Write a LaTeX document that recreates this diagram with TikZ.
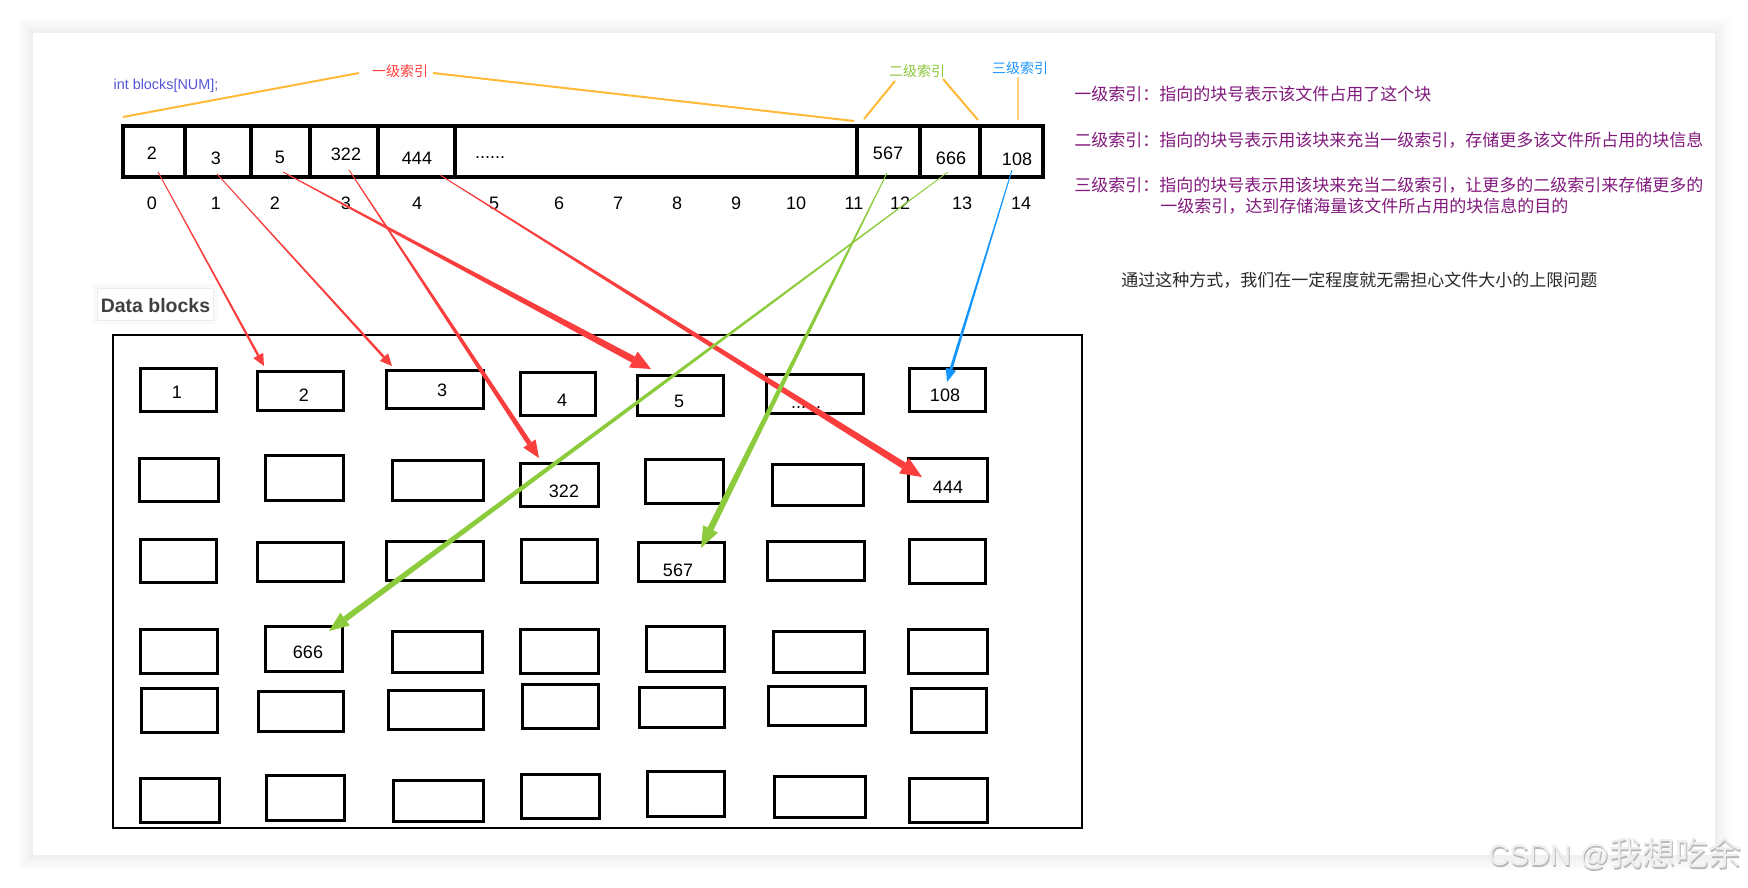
\documentclass[tikz,border=0pt]{standalone}
\usepackage{fontspec}
\setmainfont{Liberation Sans}
\newfontfamily\cjk{Noto Sans CJK SC}
\usetikzlibrary{calc}
\definecolor{redA}{RGB}{250,62,62}
\definecolor{greenA}{RGB}{140,204,60}
\definecolor{blueA}{RGB}{20,150,255}
\definecolor{orangeL}{RGB}{255,185,55}
\definecolor{orangeP}{RGB}{255,210,130}
\definecolor{purpleT}{RGB}{130,25,125}
\definecolor{intblue}{RGB}{85,85,215}
\definecolor{lblred}{RGB}{255,60,60}
\definecolor{lblgreen}{RGB}{140,200,60}
\definecolor{lblblue}{RGB}{30,150,255}
\definecolor{darkT}{RGB}{40,40,40}
\definecolor{dbgray}{RGB}{64,64,64}
\tikzset{
  num/.style={inner sep=0pt, font=\fontsize{13.5pt}{16pt}\selectfont},
  lbl/.style={inner sep=0pt, font=\cjk\fontsize{10.5pt}{12pt}\selectfont},
  desc/.style={inner sep=0pt, anchor=west, text=purpleT, font=\cjk\fontsize{12.75pt}{15pt}\selectfont},
  dbox/.style={draw, line width=2.5pt, inner sep=0pt, outer sep=0pt},
  oline/.style={draw=orangeL, line width=1.5pt},
}
% data box: name, x1, y1, x2, y2 (outer pixel edges)
\newcommand\dbx[5]{\node[dbox, minimum width={(#4-#2-3.3)*0.75pt}, minimum height={(#5-#3-3.3)*0.75pt}] (#1) at ({(#2+#4)/2},{(#3+#5)/2}) {};}
% tapered arrow: start, end, half width start, half width end, head length, head half width, colour
\newcommand\taper[7]{%
  \coordinate (#1#2h) at ($(#2)!#5!(#1)$);
  \fill[#7] ($(#1)!#3!90:(#2)$) -- ($(#1#2h)!#4!-90:(#1)$) -- ($(#1#2h)!#4!90:(#1)$) -- ($(#1)!#3!-90:(#2)$) -- cycle;
  \fill[#7] ($(#1#2h)!#6!-90:(#1)$) -- (#2) -- ($(#1#2h)!#6!90:(#1)$) -- cycle;
}
\begin{document}
\begin{tikzpicture}[x=0.75pt,y=-0.75pt]
\useasboundingbox (0,0) rectangle (1748,888);
\fill[white] (0,0) rectangle (1748,888);
% card shadow and card
\foreach \i in {1,...,16}{
  \fill[black,opacity=0.0045] ({33-\i},{33-\i}) rectangle ({1715+\i},{855+\i});
}
\fill[white] (33,33) rectangle (1715,855);

% ---------- index array ----------
\draw[line width=3.4pt] (123,126) rectangle (1043,177);
\foreach \x in {185,251,310,378,455,857,920,980}{
  \draw[line width=3.2pt] (\x,126) -- (\x,177);
}
\node[num] (t0) at (152,153) {2};
\node[num] (t1) at (216,158) {3};
\node[num] (t2) at (280,157) {5};
\node[num] (t3) at (346,154) {322};
\node[num] (t4) at (417,158) {444};
\node[num, anchor=base] (tdots) at (490,159) {......};
\node[num] (t12) at (888,153) {567};
\node[num] (t13) at (951,158) {666};
\node[num] (t14) at (1017,159) {108};

\foreach \n/\x in {0/152,1/216,2/275,3/346,4/417,5/494,6/559,7/618,8/677,9/736,10/796,11/854,12/900,13/962,14/1021}{
  \node[num] (i\n) at (\x,203) {\n};
}

% ---------- labels ----------
\node[inner sep=0pt, text=intblue, font=\fontsize{10.8pt}{13pt}\selectfont] (intlbl) at (166,86) {int blocks[NUM];};
\node[lbl, text=lblred] (lbl1) at (400,71) {一级索引};
\node[lbl, text=lblgreen] (lbl2) at (917,71) {二级索引};
\node[lbl, text=lblblue] (lbl3) at (1020,68) {三级索引};

\coordinate (o1a) at (123,117);
\coordinate (o1b) at (359,73);
\coordinate (o2a) at (433,73);
\coordinate (o2b) at (854,121);
\coordinate (o3a) at (895,81);
\coordinate (o3b) at (864,119);
\coordinate (o4a) at (943,79);
\coordinate (o4b) at (978,120);
\coordinate (o5a) at (1018,77);
\coordinate (o5b) at (1018,120);
\draw[oline] (o1a) -- (o1b);
\draw[oline] (o2a) -- (o2b);
\draw[oline] (o3a) -- (o3b);
\draw[oline] (o4a) -- (o4b);
\draw[draw=orangeP, line width=0.9pt] (o5a) -- (o5b);

% ---------- right-hand description ----------
\node[desc] (d1) at (1074,94.5) {一级索引：指向的块号表示该文件占用了这个块};
\node[desc] (d2) at (1074,140) {二级索引：指向的块号表示用该块来充当一级索引，存储更多该文件所占用的块信息};
\node[desc] (d3) at (1074,185) {三级索引：指向的块号表示用该块来充当二级索引，让更多的二级索引来存储更多的};
\node[desc] (d4) at (1160,206) {一级索引，达到存储海量该文件所占用的块信息的目的};
\node[desc, text=darkT] (d5) at (1121,280.5) {通过这种方式，我们在一定程度就无需担心文件大小的上限问题};

% ---------- data blocks ----------
\fill[black,opacity=0.02] (93,284) rectangle (217,324);
\node[inner sep=0pt, fill=white, draw={rgb,255:red,236;green,236;blue,236}, line width=0.6pt,
      minimum width=87pt, minimum height=24pt] (dbframe) at (155,304) {};
\node[inner sep=0pt, text=dbgray, font=\bfseries\fontsize{14.6pt}{17pt}\selectfont] (dblbl) at (155.5,306) {Data blocks};

\draw[line width=2.2pt] (113,335) rectangle (1082,828);

% row 1
\dbx{b11}{139}{367}{218}{413}
\dbx{b12}{256}{370}{345}{412}
\dbx{b13}{385}{369}{485}{410}
\dbx{b14}{519}{371}{597}{417}
\dbx{b15}{636}{374}{725}{417}
\dbx{b16}{765}{373}{865}{415}
\dbx{b17}{908}{367}{987}{413}
% row 2
\dbx{b21}{138}{457}{220}{503}
\dbx{b22}{264}{454}{345}{502}
\dbx{b23}{391}{459}{485}{502}
\dbx{b24}{519}{462}{600}{508}
\dbx{b25}{644}{458}{725}{505}
\dbx{b26}{771}{463}{865}{507}
\dbx{b27}{907}{457}{989}{503}
% row 3
\dbx{b31}{139}{538}{218}{584}
\dbx{b32}{256}{541}{345}{583}
\dbx{b33}{385}{540}{485}{582}
\dbx{b34}{520}{538}{599}{584}
\dbx{b35}{637}{541}{726}{583}
\dbx{b36}{766}{540}{866}{582}
\dbx{b37}{908}{538}{987}{585}
% row 4
\dbx{b41}{139}{628}{219}{675}
\dbx{b42}{264}{625}{344}{673}
\dbx{b43}{391}{630}{484}{674}
\dbx{b44}{519}{628}{600}{675}
\dbx{b45}{645}{625}{726}{673}
\dbx{b46}{772}{630}{866}{674}
\dbx{b47}{907}{628}{989}{675}
% row 5
\dbx{b51}{140}{687}{219}{734}
\dbx{b52}{257}{690}{345}{733}
\dbx{b53}{387}{689}{485}{731}
\dbx{b54}{521}{683}{600}{730}
\dbx{b55}{638}{686}{726}{729}
\dbx{b56}{767}{685}{867}{727}
\dbx{b57}{910}{687}{988}{734}
% row 6
\dbx{b61}{139}{777}{221}{824}
\dbx{b62}{265}{774}{346}{822}
\dbx{b63}{392}{779}{485}{823}
\dbx{b64}{520}{773}{601}{820}
\dbx{b65}{646}{770}{726}{818}
\dbx{b66}{773}{775}{867}{819}
\dbx{b67}{908}{777}{989}{824}

% texts inside data blocks
\node[num] (bt1) at (177,392) {1};
\node[num] (bt2) at (304,395) {2};
\node[num] (bt3) at (442,390) {3};
\node[num] (bt4) at (562,400) {4};
\node[num] (bt5) at (679,401) {5};
\node[num, anchor=base] (btd) at (806,408) {......};
\node[num] (bt108) at (945,395) {108};
\node[num] (bt322) at (564,491) {322};
\node[num] (bt444) at (948,487) {444};
\node[num] (bt567) at (678,570) {567};
\node[num] (bt666) at (308,652) {666};

% ---------- arrows ----------
\coordinate (s1) at (158,172);  \coordinate (e1) at (264,366);
\coordinate (s2) at (217,174);  \coordinate (e2) at (392,366);
\coordinate (s3) at (283,172);  \coordinate (e3) at (651,369);
\coordinate (s4) at (349,170);  \coordinate (e4) at (539,458);
\coordinate (s5) at (440,175);  \coordinate (e5) at (922,477);
\coordinate (s6) at (887,173);  \coordinate (e6) at (701,548);
\coordinate (s7) at (948,172);  \coordinate (e7) at (329,631);
\coordinate (s8) at (1012,170); \coordinate (e8) at (947,382);

\taper{s1}{e1}{0.35pt}{0.9pt}{9pt}{4.2pt}{redA}
\taper{s2}{e2}{0.35pt}{0.95pt}{9pt}{4.2pt}{redA}
\taper{s3}{e3}{0.35pt}{2.6pt}{15pt}{6.8pt}{redA}
\taper{s4}{e4}{0.35pt}{1.9pt}{13pt}{5.5pt}{redA}
\taper{s5}{e5}{0.35pt}{2.6pt}{16pt}{6.8pt}{redA}
\taper{s6}{e6}{0.35pt}{2.4pt}{16pt}{6.2pt}{greenA}
\taper{s7}{e7}{0.3pt}{2.2pt}{15pt}{6pt}{greenA}
\taper{s8}{e8}{0.35pt}{1.1pt}{10pt}{4pt}{blueA}

% ---------- watermark ----------
\node[anchor=west, inner sep=0pt, text={rgb,255:red,185;green,185;blue,185}] (wm0) at (1489,855)
  {\fontsize{22pt}{24pt}\selectfont CSDN @{\cjk\fontsize{24.8pt}{26pt}\selectfont 我想吃余}};
\node[anchor=west, inner sep=0pt, text={rgb,255:red,238;green,238;blue,238}] (wm) at (1488,853.8)
  {\fontsize{22pt}{24pt}\selectfont CSDN @{\cjk\fontsize{24.8pt}{26pt}\selectfont 我想吃余}};
\end{tikzpicture}
\end{document}
